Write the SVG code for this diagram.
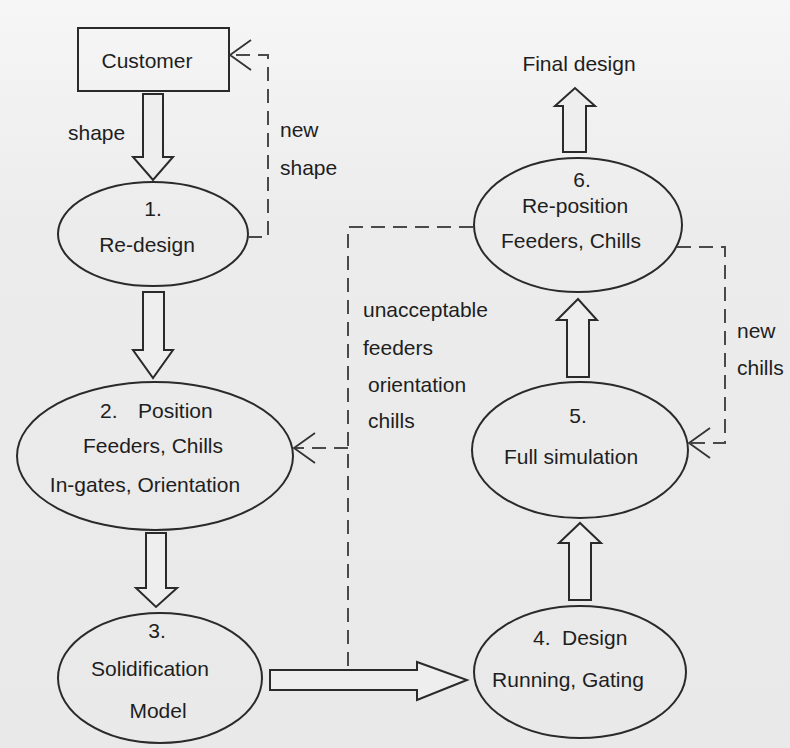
<svg xmlns="http://www.w3.org/2000/svg" width="790" height="748" viewBox="0 0 790 748">
<defs>
<linearGradient id="bg" x1="0" y1="0" x2="0" y2="1">
<stop offset="0" stop-color="#f6f6f6"/>
<stop offset="0.3" stop-color="#ececec"/>
<stop offset="1" stop-color="#e9e9e9"/>
</linearGradient>
<marker id="open" markerUnits="userSpaceOnUse" markerWidth="30" markerHeight="34" viewBox="-24 -17 30 34" refX="0" refY="0" orient="auto">
<path d="M -21 -15 L 0 0 L -21 15" fill="none" stroke="#333" stroke-width="1.8"/>
</marker>
<style>
text{font-family:"Liberation Sans",Arial,sans-serif;font-size:21px;fill:#1e1e1e}
.c{text-anchor:middle}
.shape{fill:none;stroke:#2a2a2a;stroke-width:2}
.blk{fill:#eeeeee;stroke:#2a2a2a;stroke-width:2;stroke-linejoin:miter}
.dash{fill:none;stroke:#4a4a4a;stroke-width:2;stroke-dasharray:14 8}
</style>
</defs>
<rect width="790" height="748" fill="url(#bg)"/>

<g id="customer">
<rect class="shape" x="78" y="28" width="151" height="63"/>
<text class="c" x="147" y="68">Customer</text>
</g>

<g id="step1">
<ellipse class="shape" cx="153" cy="234" rx="95" ry="52"/>
<text class="c" x="153" y="216">1.</text>
<text class="c" x="147" y="252">Re-design</text>
</g>

<g id="step2">
<ellipse class="shape" cx="155" cy="456" rx="138" ry="74"/>
<text y="418"><tspan x="100">2.</tspan><tspan x="138">Position</tspan></text>
<text class="c" x="153" y="453">Feeders, Chills</text>
<text class="c" x="145" y="492">In-gates, Orientation</text>
</g>

<g id="step3">
<ellipse class="shape" cx="160" cy="678" rx="102" ry="65"/>
<text class="c" x="157" y="638">3.</text>
<text class="c" x="150" y="676">Solidification</text>
<text class="c" x="158" y="718">Model</text>
</g>

<g id="step4">
<ellipse class="shape" cx="580" cy="672" rx="106" ry="66"/>
<text y="645"><tspan x="533">4.</tspan><tspan x="562">Design</tspan></text>
<text class="c" x="568" y="687">Running, Gating</text>
</g>

<g id="step5">
<ellipse class="shape" cx="580" cy="450" rx="108" ry="68"/>
<text class="c" x="578" y="423">5.</text>
<text class="c" x="571" y="464">Full simulation</text>
</g>

<g id="step6">
<ellipse class="shape" cx="578" cy="225" rx="104" ry="67"/>
<text class="c" x="582" y="187">6.</text>
<text class="c" x="575" y="213">Re-position</text>
<text class="c" x="571" y="248">Feeders, Chills</text>
</g>

<g id="final">
<text class="c" x="579" y="71">Final design</text>
</g>

<g id="connectors">
<polygon class="blk" points="143,94 163,94 163,157 173,157 153,180 133,157 143,157"/>
<polygon class="blk" points="143,292 164,292 164,350 173,350 153,378 133,350 143,350"/>
<polygon class="blk" points="146,533 166,533 166,588 177,588 156,607 136,588 146,588"/>
<polygon class="blk" points="270,670 417,670 417,662 467,680 417,700 417,690 270,690"/>
<polygon class="blk" points="569,600 591,600 591,543 601,543 580,523 559,543 569,543"/>
<polygon class="blk" points="567,377 589,377 589,320 597,320 578,299 557,320 567,320"/>
<polygon class="blk" points="563,152 586,152 586,106 595,106 575,88 555,106 563,106"/>

<path class="dash" d="M 248 237 H 268 V 55 H 230" marker-end="url(#open)"/>
<path class="dash" d="M 473 227 H 348 V 668"/>
<path class="dash" d="M 348 448 H 294" marker-end="url(#open)"/>
<path class="dash" d="M 677 247 H 725 V 443 H 689" marker-end="url(#open)"/>

<text x="68" y="140">shape</text>
<text x="280" y="137">new</text>
<text x="280" y="175">shape</text>
<text x="363" y="317">unacceptable</text>
<text x="363" y="355">feeders</text>
<text x="368" y="392">orientation</text>
<text x="368" y="428">chills</text>
<text x="737" y="338">new</text>
<text x="737" y="375">chills</text>
</g>
</svg>
